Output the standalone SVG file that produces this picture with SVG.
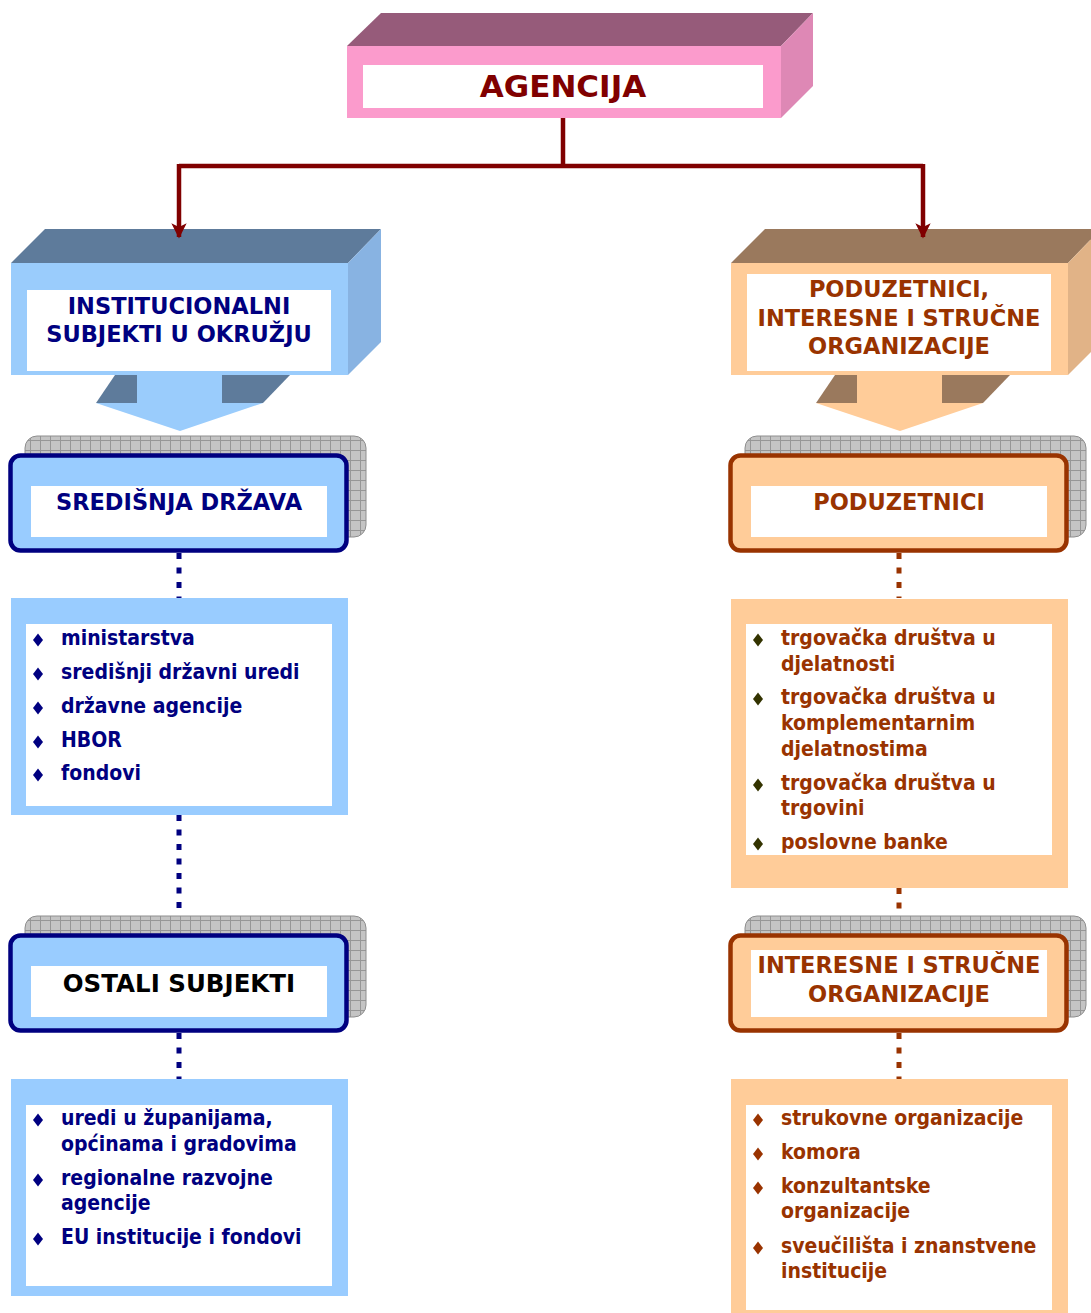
<svg xmlns="http://www.w3.org/2000/svg" width="1091" height="1313" viewBox="0 0 1091 1313">
  <defs>
    <!-- grid texture for the grey shadow cards -->
    <pattern id="grid" x="0" y="0" width="10" height="10" patternUnits="userSpaceOnUse">
      <rect width="10" height="10" fill="#C4C4C4"/>
      <path d="M0 0.5H10M0.5 0V10" stroke="#969696" stroke-width="1"/>
    </pattern>
    <marker id="arrow" viewBox="0 0 10 10" refX="9" refY="5" markerWidth="3.4" markerHeight="3.4" orient="auto" markerUnits="strokeWidth">
      <path d="M0 0L10 5L0 10L2.5 5Z" fill="#800000"/>
    </marker>
    <path id="dia" d="M0 -6.5L5 0L0 6.5L-5 0Z"/>
  </defs>
  <style>
    .head { font-family: "DejaVu Sans", Verdana, sans-serif; font-weight: bold; text-anchor: middle; }
    .item { font-family: "DejaVu Sans Condensed", "DejaVu Sans", sans-serif; font-weight: bold; font-size: 21px; }
    .blue { fill: #000080; }
    .brown { fill: #993300; }
    .white { fill: #FFFFFF; }
    .shadow { fill: url(#grid); stroke: #8E8E8E; stroke-width: 1; }
    .dots { fill: none; stroke-width: 5; stroke-dasharray: 6 8.5; }
  </style>

  <rect width="1091" height="1313" fill="#FFFFFF"/>

  <!-- top block -->
  <g id="agencija">
    <polygon points="347,46 381,13 813,13 781,46" fill="#965B7A"/>
    <polygon points="781,46 813,13 813,86 781,118" fill="#DE88B5"/>
    <rect x="347" y="46" width="434" height="72" fill="#FB9BCC"/>
    <rect x="363" y="65" width="400" height="43" class="white"/>
    <text x="563" y="97" class="head" font-size="31" fill="#800000">AGENCIJA</text>
  </g>

  <!-- left column header block -->
  <g id="institucionalni">
    <polygon points="11,263 45,229 381,229 348,263" fill="#5E7B9B"/>
    <polygon points="348,263 381,229 381,342 348,375" fill="#88B3E2"/>
    <rect x="11" y="263" width="337" height="112" fill="#9ACCFC"/>
    <polygon points="115,375 137,375 137,403 96,403" fill="#5E7B9B"/>
    <polygon points="222,375 290,375 263,403 222,403" fill="#5E7B9B"/>
    <polygon points="137,375 222,375 222,403 263,403 180,431 96,403 137,403" fill="#9ACCFC"/>
    <rect x="27" y="290" width="304" height="81" class="white"/>
    <text x="179" y="314" class="head blue" font-size="22.5">INSTITUCIONALNI</text>
    <text x="179" y="342" class="head blue" font-size="22.5">SUBJEKTI U OKRUŽJU</text>
  </g>

  <!-- right column header block -->
  <g id="poduzetnici-organizacije">
    <polygon points="731,263 765,229 1101,229 1068,263" fill="#9A795D"/>
    <polygon points="1068,263 1101,229 1101,342 1068,375" fill="#E1B387"/>
    <rect x="731" y="263" width="337" height="112" fill="#FFCC99"/>
    <polygon points="835,375 857,375 857,403 816,403" fill="#9A795D"/>
    <polygon points="942,375 1010,375 983,403 942,403" fill="#9A795D"/>
    <polygon points="857,375 942,375 942,403 983,403 900,431 816,403 857,403" fill="#FFCC99"/>
    <rect x="747" y="274" width="304" height="97" class="white"/>
    <text x="899" y="297" class="head brown" font-size="22.5">PODUZETNICI,</text>
    <text x="899" y="326" class="head brown" font-size="22.5">INTERESNE I STRUČNE</text>
    <text x="899" y="354" class="head brown" font-size="22.5">ORGANIZACIJE</text>
  </g>

  <!-- connectors -->
  <g id="connectors">
    <path d="M563 118V166M179 166H923" stroke="#800000" stroke-width="4.5" fill="none"/>
    <path d="M179 164V237" stroke="#800000" stroke-width="4.5" fill="none" marker-end="url(#arrow)"/>
    <path d="M923 164V237" stroke="#800000" stroke-width="4.5" fill="none" marker-end="url(#arrow)"/>
    <path class="dots" stroke="#000080" d="M179 553V598M179 815V935M179 1033V1079"/>
    <path class="dots" stroke="#993300" d="M899 553V598M899 888V935M899 1033V1079"/>
  </g>

  <!-- central state card -->
  <g id="sredisnja-drzava">
    <rect x="25" y="436" width="341" height="101" rx="12" class="shadow"/>
    <rect x="10.5" y="455.5" width="336" height="95" rx="10" fill="#99CCFF" stroke="#000080" stroke-width="4.5"/>
    <rect x="31" y="486" width="296" height="51" class="white"/>
    <text x="179" y="510" class="head blue" font-size="22.5">SREDIŠNJA DRŽAVA</text>
  </g>

  <g id="lista-drzava">
    <rect x="11" y="598" width="337" height="217" fill="#99CCFF"/>
    <rect x="26" y="624" width="306" height="182" class="white"/>
    <g class="blue">
      <use href="#dia" x="38" y="640"/>
      <use href="#dia" x="38" y="674"/>
      <use href="#dia" x="38" y="708"/>
      <use href="#dia" x="38" y="742"/>
      <use href="#dia" x="38" y="775"/>
    </g>
    <text class="item blue" x="61" y="645">ministarstva</text>
    <text class="item blue" x="61" y="679">središnji državni uredi</text>
    <text class="item blue" x="61" y="713">državne agencije</text>
    <text class="item blue" x="61" y="747">HBOR</text>
    <text class="item blue" x="61" y="780">fondovi</text>
  </g>

  <!-- entrepreneurs card -->
  <g id="poduzetnici">
    <rect x="745" y="436" width="341" height="101" rx="12" class="shadow"/>
    <rect x="730.5" y="455.5" width="336" height="95" rx="10" fill="#FFCC99" stroke="#993300" stroke-width="4.5"/>
    <rect x="751" y="486" width="296" height="51" class="white"/>
    <text x="899" y="510" class="head brown" font-size="22.5">PODUZETNICI</text>
  </g>

  <g id="lista-poduzetnici">
    <rect x="731" y="599" width="337" height="289" fill="#FFCC99"/>
    <rect x="746" y="624" width="306" height="231" class="white"/>
    <g fill="#333300">
      <use href="#dia" x="758" y="640"/>
      <use href="#dia" x="758" y="699"/>
      <use href="#dia" x="758" y="785"/>
      <use href="#dia" x="758" y="844"/>
    </g>
    <text class="item brown" x="781" y="645">trgovačka društva u</text>
    <text class="item brown" x="781" y="671">djelatnosti</text>
    <text class="item brown" x="781" y="704">trgovačka društva u</text>
    <text class="item brown" x="781" y="730">komplementarnim</text>
    <text class="item brown" x="781" y="756">djelatnostima</text>
    <text class="item brown" x="781" y="790">trgovačka društva u</text>
    <text class="item brown" x="781" y="815">trgovini</text>
    <text class="item brown" x="781" y="849">poslovne banke</text>
  </g>

  <!-- other subjects card -->
  <g id="ostali-subjekti">
    <rect x="25" y="916" width="341" height="101" rx="12" class="shadow"/>
    <rect x="10.5" y="935.5" width="336" height="95" rx="10" fill="#99CCFF" stroke="#000080" stroke-width="4.5"/>
    <rect x="31" y="966" width="296" height="51" class="white"/>
    <text x="179" y="992" class="head" font-size="24.5" fill="#000000">OSTALI SUBJEKTI</text>
  </g>

  <g id="lista-ostali">
    <rect x="11" y="1079" width="337" height="217" fill="#99CCFF"/>
    <rect x="26" y="1105" width="306" height="181" class="white"/>
    <g class="blue">
      <use href="#dia" x="38" y="1120"/>
      <use href="#dia" x="38" y="1180"/>
      <use href="#dia" x="38" y="1239"/>
    </g>
    <text class="item blue" x="61" y="1125">uredi u županijama,</text>
    <text class="item blue" x="61" y="1151">općinama i gradovima</text>
    <text class="item blue" x="61" y="1185">regionalne razvojne</text>
    <text class="item blue" x="61" y="1210">agencije</text>
    <text class="item blue" x="61" y="1244">EU institucije i fondovi</text>
  </g>

  <!-- interest and professional organisations card -->
  <g id="interesne-organizacije">
    <rect x="745" y="916" width="341" height="101" rx="12" class="shadow"/>
    <rect x="730.5" y="935.5" width="336" height="95" rx="10" fill="#FFCC99" stroke="#993300" stroke-width="4.5"/>
    <rect x="751" y="950" width="296" height="67" class="white"/>
    <text x="899" y="973" class="head brown" font-size="22.5">INTERESNE I STRUČNE</text>
    <text x="899" y="1002" class="head brown" font-size="22.5">ORGANIZACIJE</text>
  </g>

  <g id="lista-organizacije">
    <rect x="731" y="1079" width="337" height="240" fill="#FFCC99"/>
    <rect x="746" y="1105" width="306" height="205" class="white"/>
    <g class="brown">
      <use href="#dia" x="758" y="1120"/>
      <use href="#dia" x="758" y="1154"/>
      <use href="#dia" x="758" y="1188"/>
      <use href="#dia" x="758" y="1248"/>
    </g>
    <text class="item brown" x="781" y="1125">strukovne organizacije</text>
    <text class="item brown" x="781" y="1159">komora</text>
    <text class="item brown" x="781" y="1193">konzultantske</text>
    <text class="item brown" x="781" y="1218">organizacije</text>
    <text class="item brown" x="781" y="1253">sveučilišta i znanstvene</text>
    <text class="item brown" x="781" y="1278">institucije</text>
  </g>
</svg>
